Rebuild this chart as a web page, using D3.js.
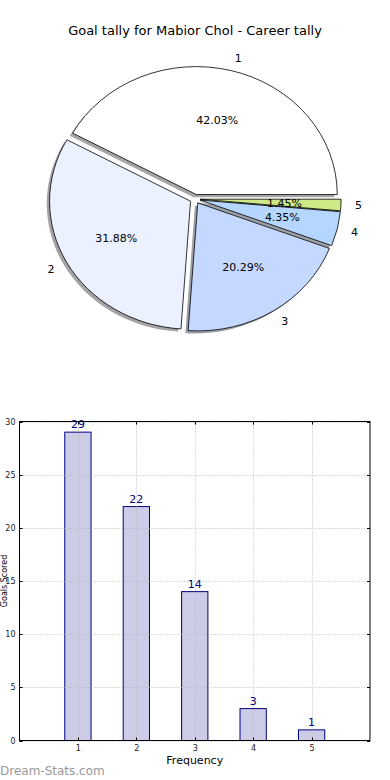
<!DOCTYPE html>
<html><head><meta charset="utf-8">
<script src="https://cdn.jsdelivr.net/npm/d3@7"></script>
<style>body{margin:0;background:#fff}svg{display:block;font-family:"DejaVu Sans",sans-serif}</style>
</head><body><svg id="c" width="390" height="780"></svg>
<script>
const categories = ["1","2","3","4","5"];
const values = [29,22,14,3,1];
const sliceColors = ["#ffffff","#ebf1ff","#c5d8ff","#b5d6ff","#cbe986"];
const yTicks = [0,5,10,15,20,25,30];
const titleText = "Goal tally for Mabior Chol - Career tally";
const xLabel = "Frequency";
const yLabel = "Goals Scored";

const svg = d3.select("#c");
svg.append("rect").attr("width",390).attr("height",780).attr("fill","#fff");

svg.append("text").attr("x",195).attr("y",35).attr("text-anchor","middle")
  .attr("font-size",13).attr("fill","#000").text(titleText);

// ---- Pie ----
const cx = 195, cy = 199, rx = 141, ry = 128, ex = 0.036;
const total = d3.sum(values);
const pie = d3.pie().sort(null).startAngle(Math.PI/2).endAngle(Math.PI/2 - 2*Math.PI);
const arcs = pie(values);
const arc = d3.arc().innerRadius(0).outerRadius(1);
function mid(d){ return (d.startAngle + d.endAngle)/2; }
function off(d, k){ const a = mid(d); return [Math.sin(a)*rx*k, -Math.cos(a)*ry*k]; }

const pg = svg.append("g");
arcs.forEach((d,i)=>{
  const [ox,oy] = off(d, ex);
  const c = d3.rgb(sliceColors[i]);
  pg.append("g").attr("transform",`translate(${cx+ox-2.8},${cy+oy+2.6}) scale(${rx},${ry})`)
    .append("path").attr("d",arc(d))
    .attr("fill",d3.rgb(c.r*0.3,c.g*0.3,c.b*0.3)).attr("fill-opacity",0.5);
});
arcs.forEach((d,i)=>{
  const [ox,oy] = off(d, ex);
  pg.append("g").attr("transform",`translate(${cx+ox},${cy+oy}) scale(${rx},${ry})`)
    .append("path").attr("d",arc(d))
    .attr("fill",sliceColors[i]).attr("stroke","#000").attr("stroke-width",0.8)
    .attr("vector-effect","non-scaling-stroke").attr("stroke-linejoin","round");
});
arcs.forEach((d,i)=>{
  const [ox,oy] = off(d, ex);
  const a = mid(d);
  const lx = cx+ox+Math.sin(a)*rx*1.1, ly = cy+oy-Math.cos(a)*ry*1.1;
  const sx = Math.sin(a);
  pg.append("text").attr("x",lx).attr("y",ly).attr("dy","0.35em")
    .attr("text-anchor", sx > 0.05 ? "start" : (sx < -0.05 ? "end" : "middle"))
    .attr("font-size",11).text(categories[i]);
  const px = cx+ox+Math.sin(a)*rx*0.6, py = cy+oy-Math.cos(a)*ry*0.6;
  pg.append("text").attr("x",px).attr("y",py).attr("dy","0.35em").attr("text-anchor","middle")
    .attr("font-size",11).text((values[i]/total*100).toFixed(2)+"%");
});

// ---- Bar chart ----
const L = 19.5, R = 370, T = 421.5, B = 740.5;
const x = d3.scaleLinear().domain([0,6]).range([L,R]);
const y = d3.scaleLinear().domain([0,30]).range([B,T]);
const bw = 0.45;
const bg = svg.append("g");
const bars = categories.map((c,i)=>({k:+c, v:values[i]}));
bg.selectAll("rect.bar").data(bars).join("rect").attr("class","bar")
  .attr("x",d=>x(d.k-bw/2)).attr("width",d=>x(d.k+bw/2)-x(d.k-bw/2))
  .attr("y",d=>y(d.v)).attr("height",d=>y(0)-y(d.v))
  .attr("fill","#ccccE6").attr("stroke","#000080").attr("stroke-width",1);
const grid = bg.append("g").attr("stroke","#bbbbbb").attr("stroke-width",1).attr("stroke-dasharray","1,2");
yTicks.forEach(t=>grid.append("line").attr("x1",L).attr("x2",R).attr("y1",Math.round(y(t))+0.5).attr("y2",Math.round(y(t))+0.5));
categories.forEach(c=>grid.append("line").attr("x1",Math.round(x(+c))+0.5).attr("x2",Math.round(x(+c))+0.5).attr("y1",T).attr("y2",B));
bg.selectAll("text.val").data(bars).join("text").attr("class","val")
  .attr("x",d=>x(d.k)).attr("y",d=>y(d.v)-4).attr("text-anchor","middle")
  .attr("font-size",11).attr("fill","#000080").text(d=>d.v);
const ya = d3.axisLeft(y).tickValues(yTicks).tickSize(0).tickPadding(4);
bg.append("g").attr("transform",`translate(${L},0)`).call(ya)
  .call(g=>{g.select(".domain").remove(); g.selectAll("text").attr("font-size",8).attr("font-family","DejaVu Sans").attr("fill","#222");});
const xa = d3.axisBottom(x).tickValues(categories.map(Number)).tickFormat(d=>d).tickSize(0).tickPadding(5);
bg.append("g").attr("transform",`translate(0,${B})`).call(xa)
  .call(g=>{g.select(".domain").remove(); g.selectAll("text").attr("font-size",8).attr("font-family","DejaVu Sans").attr("fill","#222");});
const tk = bg.append("g").attr("stroke","#000").attr("stroke-width",1);
yTicks.forEach(t=>{const yy=Math.round(y(t))+0.5;
  tk.append("line").attr("x1",L).attr("x2",L+3).attr("y1",yy).attr("y2",yy);
  tk.append("line").attr("x1",R-3).attr("x2",R).attr("y1",yy).attr("y2",yy);});
categories.forEach(c=>{const xx=Math.round(x(+c))+0.5;
  tk.append("line").attr("x1",xx).attr("x2",xx).attr("y1",B).attr("y2",B-3);
  tk.append("line").attr("x1",xx).attr("x2",xx).attr("y1",T).attr("y2",T+3);});
bg.append("rect").attr("x",L).attr("y",T).attr("width",R-L).attr("height",B-T)
  .attr("fill","none").attr("stroke","#000").attr("stroke-width",1);
svg.append("text").attr("x",(L+R)/2).attr("y",764).attr("text-anchor","middle")
  .attr("font-size",11).text(xLabel);
svg.append("text").attr("transform",`translate(7,${(T+B)/2}) rotate(-90)`)
  .attr("text-anchor","middle").attr("font-size",8).text(yLabel);
svg.append("text").attr("x",0).attr("y",775).attr("font-size",12)
  .attr("fill","#999").attr("font-family","'DejaVu Sans',sans-serif").text("Dream-Stats.com");
</script></body></html>
